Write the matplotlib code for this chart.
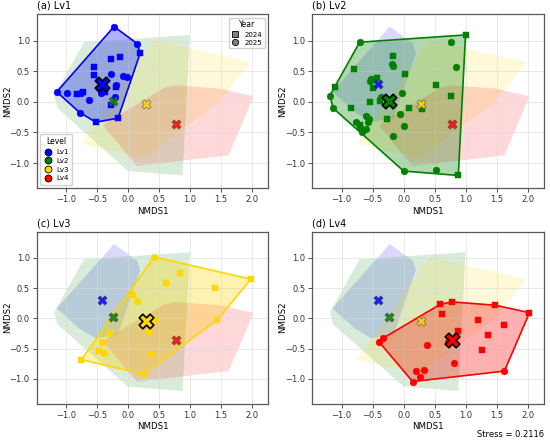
import numpy as np
import matplotlib
matplotlib.use("Agg")
import matplotlib.pyplot as plt
from matplotlib.lines import Line2D

# ---- data (NMDS scores) ----
levels = ["Lv1", "Lv2", "Lv3", "Lv4"]
colors = ["#0000ff", "#008000", "#ffd700", "#ff0000"]
panel_titles = ["(a) Lv1", "(b) Lv2", "(c) Lv3", "(d) Lv4"]

# Lv1 : 2024 (squares) / 2025 (circles)
lv1_2024_x = [0.197, -0.16, -0.517, -0.827, -0.72, -0.544, -0.544, -0.368, -0.267, -0.125, -0.187, -0.272]
lv1_2024_y = [0.793, -0.266, -0.332, 0.12, 0.168, 0.576, 0.43, 0.16, 0.696, 0.728, 0.25, -0.049]
lv1_2025_x = [-0.224, 0.149, -0.779, -1.147, -0.981, -0.763, -0.62, -0.43, -0.267, -0.08, -0.016, -0.187, -0.213]
lv1_2025_y = [1.228, 0.95, -0.174, 0.163, 0.146, 0.152, 0.033, 0.141, 0.462, 0.415, 0.402, 0.28, 0.071]

# Lv2
lv2_2024_x = [0.997, 0.88, -1.099, -0.176, -0.8, 0.027, -0.432, -0.496, 0.517, 0.757, -0.384, -0.539,
              -0.848, 0.08, 0.288, -0.272, -0.709]
lv2_2024_y = [1.092, -1.201, 0.25, 0.75, 0.538, 0.451, 0.386, 0.223, 0.272, 0.098, 0.016, 0.0,
              -0.103, -0.098, -0.12, -0.277, -0.375]
lv2_2025_x = [-0.709, 0.523, 0.0, -1.136, -1.189, 0.763, 0.843, -0.192, -0.176, -0.523, -0.539, -0.027,
              -0.368, -0.053, -0.603, -0.56, -0.571, -0.773, -0.704, -0.613, -0.667, 0.0, -0.176]
lv2_2025_y = [0.973, -1.12, -1.13, -0.103, 0.103, 0.984, 0.576, 0.62, 0.592, 0.375, 0.342, 0.141,
              0.076, -0.201, -0.228, -0.283, -0.337, -0.321, -0.418, -0.446, -0.484, -0.402, -0.56]

# Lv3
lv3_2024_x = [1.979, 1.436, -0.75, 0.835, 0.617, 1.399, 0.074, 0.431, -0.463]
lv3_2024_y = [0.647, -0.032, -0.685, 0.744, 0.577, 0.496, 0.388, -0.022, -0.534]
lv3_2025_x = [0.42, 0.245, 0.138, -0.303, 0.34, -0.415, -0.378, 0.378]
lv3_2025_y = [1.013, -0.922, 0.286, -0.243, -0.232, -0.388, -0.571, -0.598]

# Lv4
lv4_2024_x = [0.59, 0.782, 1.479, 2.027, 0.617, 1.202, 1.617, 0.872, 1.356, 1.266]
lv4_2024_y = [0.232, 0.27, 0.216, 0.092, 0.07, -0.032, -0.113, -0.21, -0.27, -0.523]
lv4_2025_x = [1.622, 0.144, -0.394, -0.34, 0.372, 0.713, 0.819, 0.197, 0.335, 0.261]
lv4_2025_y = [-0.873, -1.046, -0.394, -0.334, -0.437, -0.388, -0.739, -0.879, -0.857, -0.97]

# group centroids
cent_x = [-0.415, -0.235, 0.285, 0.772]
cent_y = [0.295, 0.018, -0.043, -0.36]

stress = 0.2116

pts_2024 = [(lv1_2024_x, lv1_2024_y), (lv2_2024_x, lv2_2024_y),
            (lv3_2024_x, lv3_2024_y), (lv4_2024_x, lv4_2024_y)]
pts_2025 = [(lv1_2025_x, lv1_2025_y), (lv2_2025_x, lv2_2025_y),
            (lv3_2025_x, lv3_2025_y), (lv4_2025_x, lv4_2025_y)]


def convex_hull(x, y):
    # monotone chain convex hull
    p = sorted(set(zip(x, y)))
    def cross(o, a, b):
        return (a[0] - o[0]) * (b[1] - o[1]) - (a[1] - o[1]) * (b[0] - o[0])
    lower, upper = [], []
    for q in p:
        while len(lower) >= 2 and cross(lower[-2], lower[-1], q) <= 0:
            lower.pop()
        lower.append(q)
    for q in reversed(p):
        while len(upper) >= 2 and cross(upper[-2], upper[-1], q) <= 0:
            upper.pop()
        upper.append(q)
    return np.array(lower[:-1] + upper[:-1])


hulls = []
for i in range(4):
    hx = list(pts_2024[i][0]) + list(pts_2025[i][0])
    hy = list(pts_2024[i][1]) + list(pts_2025[i][1])
    hulls.append(convex_hull(hx, hy))

fig = plt.figure(figsize=(5.5, 4.44), dpi=100)
positions = [[0.0667, 0.576, 0.421, 0.392],
             [0.568, 0.576, 0.421, 0.392],
             [0.0667, 0.091, 0.421, 0.387],
             [0.568, 0.091, 0.421, 0.387]]

for k in range(4):
    ax = fig.add_axes(positions[k])

    # light hulls of every level
    for i in range(4):
        ax.fill(hulls[i][:, 0], hulls[i][:, 1], color=colors[i], alpha=0.15, lw=0, zorder=1)

    # the highlighted level
    h = hulls[k]
    ax.fill(h[:, 0], h[:, 1], facecolor=colors[k], alpha=0.18, lw=0, zorder=2)
    hc = np.vstack([h, h[:1]])
    ax.plot(hc[:, 0], hc[:, 1], color=colors[k], lw=1.2, zorder=3)

    ax.scatter(pts_2024[k][0], pts_2024[k][1], marker="s", s=24, color=colors[k],
               edgecolors=colors[k], linewidths=0.3, zorder=4)
    ax.scatter(pts_2025[k][0], pts_2025[k][1], marker="o", s=24, color=colors[k],
               edgecolors=colors[k], linewidths=0.3, zorder=4)

    # centroids
    for i in range(4):
        if i == k:
            ax.scatter(cent_x[i], cent_y[i], marker="X", s=110, color=colors[i],
                       edgecolors="black", linewidths=1.2, zorder=6)
        else:
            ax.scatter(cent_x[i], cent_y[i], marker="X", s=45, color=colors[i],
                       edgecolors="0.25", linewidths=0.4, zorder=5, alpha=0.85)

    ax.set_xlim(-1.47, 2.26)
    ax.set_ylim(-1.41, 1.43)
    ax.set_xticks(np.arange(-1.0, 2.01, 0.5))
    ax.set_yticks(np.arange(-1.0, 1.01, 0.5))
    ax.grid(True, color="0.85", lw=0.5, alpha=0.8)
    ax.tick_params(labelsize=6, length=3, width=0.6, pad=2, colors="0.2")
    for sp in ax.spines.values():
        sp.set_color("0.35")
        sp.set_linewidth(0.9)
    ax.set_xlabel("NMDS1", fontsize=6.2, labelpad=2)
    ax.set_ylabel("NMDS2", fontsize=6.2)
    ax.yaxis.set_label_coords(-0.108, 0.5)
    ax.set_title(panel_titles[k], fontsize=7, loc="left", pad=4)

    if k == 0:
        lvl_handles = [Line2D([], [], marker="o", ls="", color=colors[i], markeredgecolor="black",
                              markeredgewidth=0.6, markersize=5, label=levels[i]) for i in range(4)]
        leg1 = ax.legend(handles=lvl_handles, title="Level", loc="lower left", fontsize=5,
                         title_fontsize=5.5, borderpad=0.5, handletextpad=0.6, labelspacing=0.4,
                         handlelength=1.2, framealpha=0.9)
        ax.add_artist(leg1)
        yr_handles = [Line2D([], [], marker="s", ls="", color="0.5", markeredgecolor="black",
                             markeredgewidth=0.6, markersize=4.5, label="2024"),
                      Line2D([], [], marker="o", ls="", color="0.5", markeredgecolor="black",
                             markeredgewidth=0.6, markersize=4.5, label="2025")]
        ax.legend(handles=yr_handles, title="Year", loc="upper right", fontsize=5,
                  title_fontsize=5.5, borderpad=0.4, handletextpad=0.8, labelspacing=0.3,
                  handlelength=1.0, framealpha=0.9)

fig.text(0.99, 0.012, "Stress = %.4f" % stress, ha="right", va="bottom", fontsize=6)

fig.savefig("out.png", dpi=100)
